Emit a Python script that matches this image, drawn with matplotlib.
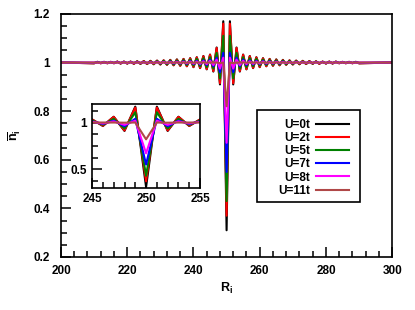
import numpy as np
import matplotlib
matplotlib.use('Agg')
import matplotlib.pyplot as plt
from matplotlib.ticker import MultipleLocator, AutoMinorLocator
from matplotlib.patches import Rectangle

plt.rcParams['font.family'] = ['Liberation Sans', 'DejaVu Sans']
plt.rcParams['font.weight'] = 'bold'
plt.rcParams['mathtext.fontset'] = 'custom'
plt.rcParams['mathtext.rm'] = 'Liberation Sans:bold'
plt.rcParams['mathtext.it'] = 'Liberation Sans:bold'
plt.rcParams['mathtext.bf'] = 'Liberation Sans:bold'

# Sites 210..290 (flat at 1 outside, endpoints 200 and 300)
sites = list(range(210, 291))
x_ends = [200, 300]

n_U0 = [0.997, 1.003, 0.997, 1.003, 0.997, 1.003, 0.997, 1.004, 0.996, 1.004,
        0.996, 1.004, 0.995, 1.005, 0.995, 1.006, 0.994, 1.007, 0.993, 1.008,
        0.992, 1.009, 0.991, 1.011, 0.989, 1.013, 0.987, 1.015, 0.985, 1.018,
        0.981, 1.022, 0.977, 1.027, 0.972, 1.033, 0.963, 1.062, 0.910, 1.170,
        0.310,
        1.170, 0.910, 1.062, 0.963, 1.033, 0.972, 1.027, 0.977, 1.022, 0.981,
        1.018, 0.985, 1.015, 0.987, 1.013, 0.989, 1.011, 0.991, 1.009, 0.992,
        1.008, 0.993, 1.007, 0.994, 1.006, 0.995, 1.005, 0.995, 1.004, 0.996,
        1.004, 0.996, 1.004, 0.997, 1.003, 0.997, 1.003, 0.997, 1.003, 0.997]
n_U2 = [0.997, 1.003, 0.997, 1.003, 0.997, 1.003, 0.997, 1.004, 0.996, 1.004,
        0.996, 1.004, 0.995, 1.005, 0.995, 1.006, 0.994, 1.007, 0.993, 1.008,
        0.992, 1.009, 0.991, 1.010, 0.989, 1.012, 0.987, 1.014, 0.985, 1.017,
        0.982, 1.021, 0.978, 1.026, 0.973, 1.032, 0.965, 1.060, 0.915, 1.160,
        0.370,
        1.160, 0.915, 1.060, 0.965, 1.032, 0.973, 1.026, 0.978, 1.021, 0.982,
        1.017, 0.985, 1.014, 0.987, 1.012, 0.989, 1.010, 0.991, 1.009, 0.992,
        1.008, 0.993, 1.007, 0.994, 1.006, 0.995, 1.005, 0.995, 1.004, 0.996,
        1.004, 0.996, 1.004, 0.997, 1.003, 0.997, 1.003, 0.997, 1.003, 0.997]
n_U5 = [0.998, 1.002, 0.998, 1.002, 0.998, 1.002, 0.998, 1.003, 0.997, 1.003,
        0.997, 1.003, 0.997, 1.004, 0.996, 1.004, 0.996, 1.005, 0.995, 1.006,
        0.994, 1.007, 0.993, 1.008, 0.992, 1.009, 0.991, 1.010, 0.990, 1.012,
        0.988, 1.015, 0.985, 1.018, 0.981, 1.022, 0.975, 1.040, 0.935, 1.110,
        0.430,
        1.110, 0.935, 1.040, 0.975, 1.022, 0.981, 1.018, 0.985, 1.015, 0.988,
        1.012, 0.990, 1.010, 0.991, 1.009, 0.992, 1.008, 0.993, 1.007, 0.994,
        1.006, 0.995, 1.005, 0.996, 1.004, 0.996, 1.004, 0.997, 1.003, 0.997,
        1.003, 0.997, 1.003, 0.998, 1.002, 0.998, 1.002, 0.998, 1.002, 0.998]
n_U7 = [0.999, 1.001, 0.999, 1.001, 0.999, 1.001, 0.999, 1.002, 0.998, 1.002,
        0.998, 1.002, 0.998, 1.002, 0.998, 1.002, 0.998, 1.002, 0.998, 1.003,
        0.997, 1.003, 0.997, 1.004, 0.996, 1.004, 0.996, 1.005, 0.995, 1.006,
        0.994, 1.007, 0.992, 1.009, 0.990, 1.012, 0.985, 1.020, 0.960, 1.040,
        0.550,
        1.040, 0.960, 1.020, 0.985, 1.012, 0.990, 1.009, 0.992, 1.007, 0.994,
        1.006, 0.995, 1.005, 0.996, 1.004, 0.996, 1.004, 0.997, 1.003, 0.997,
        1.003, 0.998, 1.002, 0.998, 1.002, 0.998, 1.002, 0.998, 1.002, 0.998,
        1.002, 0.998, 1.002, 0.999, 1.001, 0.999, 1.001, 0.999, 1.001, 0.999]
n_U8 = [1.000, 1.000, 0.999, 1.001, 0.999, 1.001, 0.999, 1.001, 0.999, 1.001,
        0.999, 1.001, 0.999, 1.001, 0.999, 1.001, 0.999, 1.001, 0.998, 1.002,
        0.998, 1.002, 0.998, 1.002, 0.998, 1.003, 0.997, 1.003, 0.997, 1.004,
        0.996, 1.004, 0.995, 1.005, 0.994, 1.007, 0.990, 1.012, 0.975, 1.020,
        0.670,
        1.020, 0.975, 1.012, 0.990, 1.007, 0.994, 1.005, 0.995, 1.004, 0.996,
        1.004, 0.997, 1.003, 0.997, 1.003, 0.998, 1.002, 0.998, 1.002, 0.998,
        1.002, 0.998, 1.001, 0.999, 1.001, 0.999, 1.001, 0.999, 1.001, 0.999,
        1.001, 0.999, 1.001, 0.999, 1.001, 0.999, 1.001, 0.999, 1.000, 1.000]
n_U11 = [1.000, 1.000, 1.000, 1.000, 1.000, 1.000, 1.000, 1.000, 1.000, 1.000,
         1.000, 1.000, 1.000, 1.000, 1.000, 1.000, 1.000, 1.000, 1.000, 1.000,
         1.000, 1.000, 1.000, 1.000, 1.000, 1.000, 1.000, 1.000, 1.000, 1.000,
         1.000, 1.000, 1.000, 1.000, 1.000, 1.000, 1.000, 1.000, 0.998, 1.000,
         0.820,
         1.000, 0.998, 1.000, 1.000, 1.000, 1.000, 1.000, 1.000, 1.000, 1.000,
         1.000, 1.000, 1.000, 1.000, 1.000, 1.000, 1.000, 1.000, 1.000, 1.000,
         1.000, 1.000, 1.000, 1.000, 1.000, 1.000, 1.000, 1.000, 1.000, 1.000,
         1.000, 1.000, 1.000, 1.000, 1.000, 1.000, 1.000, 1.000, 1.000, 1.000]

labels = ['U=0t', 'U=2t', 'U=5t', 'U=7t', 'U=8t', 'U=11t']
colors = ['black', 'red', 'green', 'blue', 'magenta', '#b04848']
series = [n_U0, n_U2, n_U5, n_U7, n_U8, n_U11]

xx = [x_ends[0]] + sites + [x_ends[1]]

fig = plt.figure(figsize=(4.15, 3.1), dpi=100)
ax = fig.add_axes([0.147, 0.171, 0.798, 0.784])

for n, c, lab in zip(series, colors, labels):
    ax.plot(xx, [1.0] + n + [1.0], color=c, lw=1.5, label=lab)

ax.set_xlim(200, 300)
ax.set_ylim(0.2, 1.2)
ax.xaxis.set_major_locator(MultipleLocator(20))
ax.xaxis.set_minor_locator(AutoMinorLocator(5))
ax.yaxis.set_minor_locator(AutoMinorLocator(4))
ax.set_yticks([0.2, 0.4, 0.6, 0.8, 1.0, 1.2])
ax.set_yticklabels(['0.2', '0.4', '0.6', '0.8', '1', '1.2'])
ax.tick_params(which='both', direction='in', top=False, right=False, labelsize=8.5)
ax.tick_params(which='major', length=7.5, width=1.1)
ax.tick_params(which='minor', length=4, width=1.1)
ax.tick_params(axis='x', pad=6)
ax.tick_params(axis='y', pad=8)
for s in ax.spines.values():
    s.set_linewidth(1.2)
ax.set_xlabel(r'$R_i$', fontsize=9)
ax.set_ylabel(r'$\overline{n}_i$', fontsize=9)
ax.xaxis.set_label_coords(0.5, -0.1)
ax.yaxis.set_label_coords(-0.115, 0.5)

# legend without its own frame, box drawn around it
leg = ax.legend(loc='upper right', bbox_to_anchor=(0.88, 0.583), fontsize=8.5,
                markerfirst=False, frameon=False, handlelength=2.8,
                labelspacing=0.1, borderaxespad=0, borderpad=0.3,
                handletextpad=0.5)
ax.add_patch(Rectangle((0.591, 0.227), 0.311, 0.378, transform=ax.transAxes,
                       fill=False, edgecolor='black', lw=1.2, zorder=5))

# Inset
ins = fig.add_axes([0.222, 0.394, 0.260, 0.271])
for n, c in zip(series, colors):
    ins.plot(sites, n, color=c, lw=1.5)
ins.set_xlim(245, 255)
ins.set_ylim(0.3, 1.2)
ins.set_xticks([245, 250, 255])
ins.xaxis.set_minor_locator(MultipleLocator(1))
ins.set_yticks([0.5, 1.0])
ins.set_yticklabels(['0.5', '1'])
ins.yaxis.set_minor_locator(MultipleLocator(0.125))
ins.tick_params(which='both', direction='in', top=False, right=False, labelsize=8.5)
ins.tick_params(which='major', length=7.5, width=1.1)
ins.tick_params(which='minor', length=4, width=1.1)
for s in ins.spines.values():
    s.set_linewidth(1.2)

fig.savefig('out.png', dpi=100)
